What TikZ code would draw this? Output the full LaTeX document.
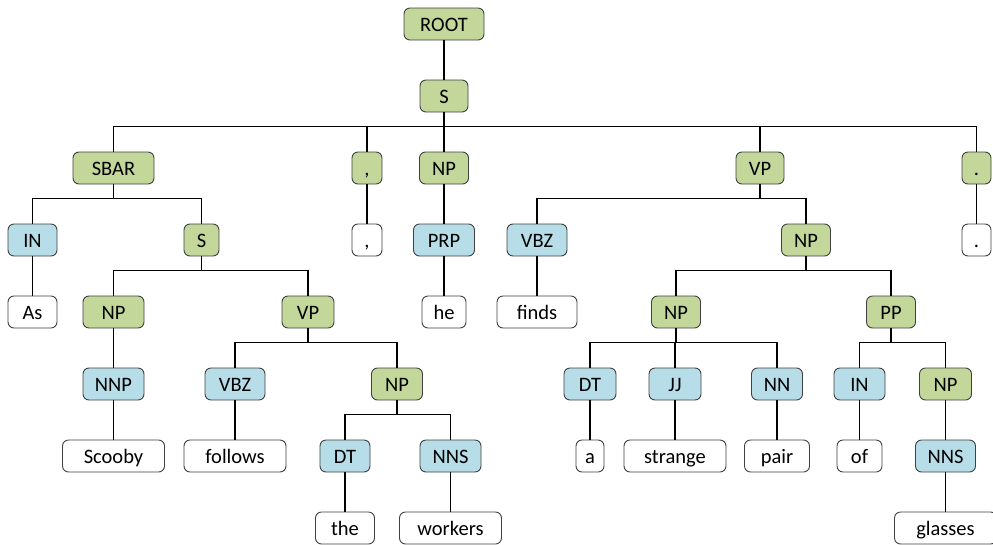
\documentclass[tikz,border=0pt]{standalone}
\usepackage{fontspec}
\setmainfont{Carlito}
\definecolor{phr}{HTML}{C4D79B}
\definecolor{pos}{HTML}{B7DEE8}
\definecolor{bord}{HTML}{404040}
\tikzset{
  box/.style={draw=bord, line width=0.9pt, rounded corners=6pt, minimum height=32pt,
    inner sep=0pt, text height=18pt, text depth=3pt, font=\fontsize{20.5}{24}\selectfont},
  gbox/.style={box, fill=phr},
  bbox/.style={box, fill=pos},
  wbox/.style={box, fill=white},
  edge/.style={line width=1.8pt, black},
}
\newcommand{\kid}[2]{\draw[edge] (#1.south) -- ++(0,14) -| (#2.north);}
\begin{document}
\begin{tikzpicture}[x=1pt,y=-1pt]
\useasboundingbox (0,0) rectangle (993,544);
% row 1
\node[gbox, minimum width=80pt] (root) at (444,24) {ROOT};
% row 2
\node[gbox, minimum width=48pt] (s) at (444,96) {S};
% row 3
\node[gbox, minimum width=81pt] (sbar) at (113.5,168) {SBAR};
\node[gbox, minimum width=30pt] (comma) at (367,168) {,};
\node[gbox, minimum width=49pt] (np1) at (444,168) {NP};
\node[gbox, minimum width=48pt] (vp1) at (760,168) {VP};
\node[gbox, minimum width=29pt] (dot) at (976.5,168) {.};
% row 4
\node[bbox, minimum width=49pt] (in1) at (32.5,240) {IN};
\node[gbox, minimum width=35pt] (s2) at (201.5,240) {S};
\node[wbox, minimum width=30pt] (commaw) at (367,240) {,};
\node[bbox, minimum width=61pt] (prp) at (444,240) {PRP};
\node[bbox, minimum width=60pt] (vbz1) at (537,240) {VBZ};
\node[gbox, minimum width=49pt] (np2) at (806,240) {NP};
\node[wbox, minimum width=29pt] (dotw) at (976.5,240) {.};
% row 5
\node[wbox, minimum width=49pt] (as) at (32.5,312) {As};
\node[gbox, minimum width=61pt] (np3) at (113.5,312) {NP};
\node[gbox, minimum width=52pt] (vp2) at (308,312) {VP};
\node[wbox, minimum width=44pt] (he) at (444,312) {he};
\node[wbox, minimum width=80pt] (finds) at (537,312) {finds};
\node[gbox, minimum width=49pt] (np4) at (676,312) {NP};
\node[gbox, minimum width=49pt] (pp) at (891,312) {PP};
% row 6
\node[bbox, minimum width=61pt] (nnp) at (113.5,384) {NNP};
\node[bbox, minimum width=60pt] (vbz2) at (235,384) {VBZ};
\node[gbox, minimum width=51pt] (np5) at (397,384) {NP};
\node[bbox, minimum width=52pt] (dt1) at (590,384) {DT};
\node[bbox, minimum width=52pt] (jj) at (675,384) {JJ};
\node[bbox, minimum width=51pt] (nn) at (777,384) {NN};
\node[bbox, minimum width=51pt] (in2) at (859.5,384) {IN};
\node[gbox, minimum width=52pt] (np6) at (945.5,384) {NP};
% row 7
\node[wbox, minimum width=102pt] (scooby) at (113.5,456) {Scooby};
\node[wbox, minimum width=102pt] (follows) at (235,456) {follows};
\node[bbox, minimum width=50pt] (dt2) at (345,456) {DT};
\node[bbox, minimum width=61pt] (nns1) at (450.5,456) {NNS};
\node[wbox, minimum width=28pt] (a) at (590,456) {a};
\node[wbox, minimum width=102pt] (strange) at (675,456) {strange};
\node[wbox, minimum width=65pt] (pair) at (777,456) {pair};
\node[wbox, minimum width=45pt] (of) at (859.5,456) {of};
\node[bbox, minimum width=60pt] (nns2) at (945.5,456) {NNS};
% row 8
\node[wbox, minimum width=59pt] (the) at (345,528) {the};
\node[wbox, minimum width=102pt] (workers) at (450.5,528) {workers};
\node[wbox, minimum width=102pt] (glasses) at (945.5,528) {glasses};
% edges
\kid{root}{s}
\kid{s}{sbar}\kid{s}{comma}\kid{s}{np1}\kid{s}{vp1}\kid{s}{dot}
\kid{sbar}{in1}\kid{sbar}{s2}
\kid{in1}{as}
\kid{s2}{np3}\kid{s2}{vp2}
\kid{np3}{nnp}\kid{nnp}{scooby}
\kid{vp2}{vbz2}\kid{vp2}{np5}
\kid{vbz2}{follows}
\kid{np5}{dt2}\kid{np5}{nns1}
\kid{dt2}{the}\kid{nns1}{workers}
\kid{comma}{commaw}
\kid{np1}{prp}\kid{prp}{he}
\kid{vp1}{vbz1}\kid{vp1}{np2}
\kid{vbz1}{finds}
\kid{np2}{np4}\kid{np2}{pp}
\kid{np4}{dt1}\kid{np4}{jj}\kid{np4}{nn}
\kid{dt1}{a}\kid{jj}{strange}\kid{nn}{pair}
\kid{pp}{in2}\kid{pp}{np6}
\kid{in2}{of}\kid{np6}{nns2}\kid{nns2}{glasses}
\kid{dot}{dotw}
\end{tikzpicture}
\end{document}
